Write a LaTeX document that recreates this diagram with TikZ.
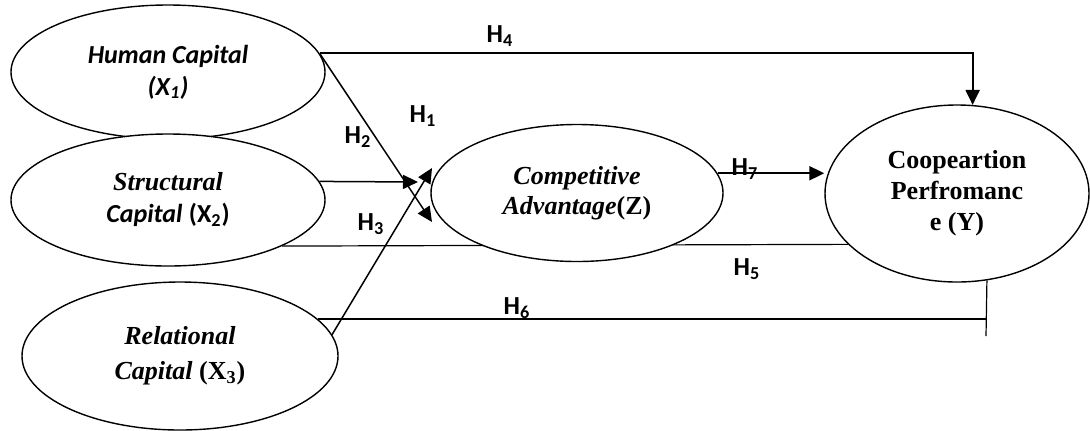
\documentclass[tikz,border=0pt]{standalone}
\usepackage{fontspec}
\setmainfont{Liberation Serif}
\newfontfamily\calib{Carlito}
\usetikzlibrary{shapes.geometric,arrows.meta,backgrounds}
\tikzset{
  latent/.style={ellipse, draw, fill=white, line width=0.7pt, inner sep=0pt, align=center},
  hlab/.style={inner sep=0pt, font=\fontsize{13}{15}\selectfont\calib\bfseries},
  link/.style={line width=0.75pt, -{Triangle[length=7.5pt,width=7pt]}},
  plain/.style={line width=0.6pt}
}
\begin{document}
\begin{tikzpicture}[x=0.5pt,y=-0.5pt]
\useasboundingbox (0,0) rectangle (1090,430);

\node[latent, minimum width=157pt, minimum height=67pt, font=\fontsize{13}{16}\selectfont\calib\bfseries\itshape] (hc) at (168,72) {Human Capital\\(X\textsubscript{1})};
\node[latent, minimum width=157pt, minimum height=66pt, font=\fontsize{13}{16}\selectfont\bfseries] (sc) at (168,200) {\textit{Structural}\\{\calib\itshape Capital} {\calib(X\textsubscript{2})}};
\node[latent, minimum width=158pt, minimum height=74pt, font=\fontsize{13}{17.5}\selectfont\bfseries] (rc) at (180,356) {\textit{Relational}\\\textit{Capital} (X\textsubscript{3})};
\node[latent, minimum width=146pt, minimum height=68.5pt, font=\fontsize{13}{15}\selectfont\bfseries] (ca) at (577,193) {\textit{Competitive}\\\textit{Advantage}(Z)};
\node[latent, minimum width=132pt, minimum height=88.5pt, font=\fontsize{13}{15.5}\selectfont\bfseries] (cp) at (957,193.5) {Coopeartion\\Perfromanc\\e (Y)};

\coordinate (h1tip) at (418,182);
\coordinate (h2tip) at (432,222);
\coordinate (h3tip) at (432,168);
\coordinate (h6foot) at (986,336);

\draw[link, line width=1pt] (hc.7) -| (cp.80);
\draw[link] (hc.7) -- (h2tip);
\draw[link] (sc.7) -- (h1tip);
\draw[link] (rc.8) -- (h3tip);
\draw[link, line width=1pt] (ca.8) -- (ca.8 -| cp.west);
\begin{pgfonlayer}{background}
\draw[plain] (sc.-22) -- (cp.205);
\end{pgfonlayer}
\draw[plain] (rc.15) -- (rc.15 -| h6foot);
\draw[plain] (cp.-71) -- (h6foot);

\node[hlab] (h1) at (423,116) {H\textsubscript{1}};
\node[hlab] (h2) at (358,137) {H\textsubscript{2}};
\node[hlab] (h3) at (371,224) {H\textsubscript{3}};
\node[hlab] (h4) at (500,36) {H\textsubscript{4}};
\node[hlab] (h5) at (747,269) {H\textsubscript{5}};
\node[hlab] (h6) at (517,308) {H\textsubscript{6}};
\node[hlab] (h7) at (745,169) {H\textsubscript{7}};
\end{tikzpicture}
\end{document}
